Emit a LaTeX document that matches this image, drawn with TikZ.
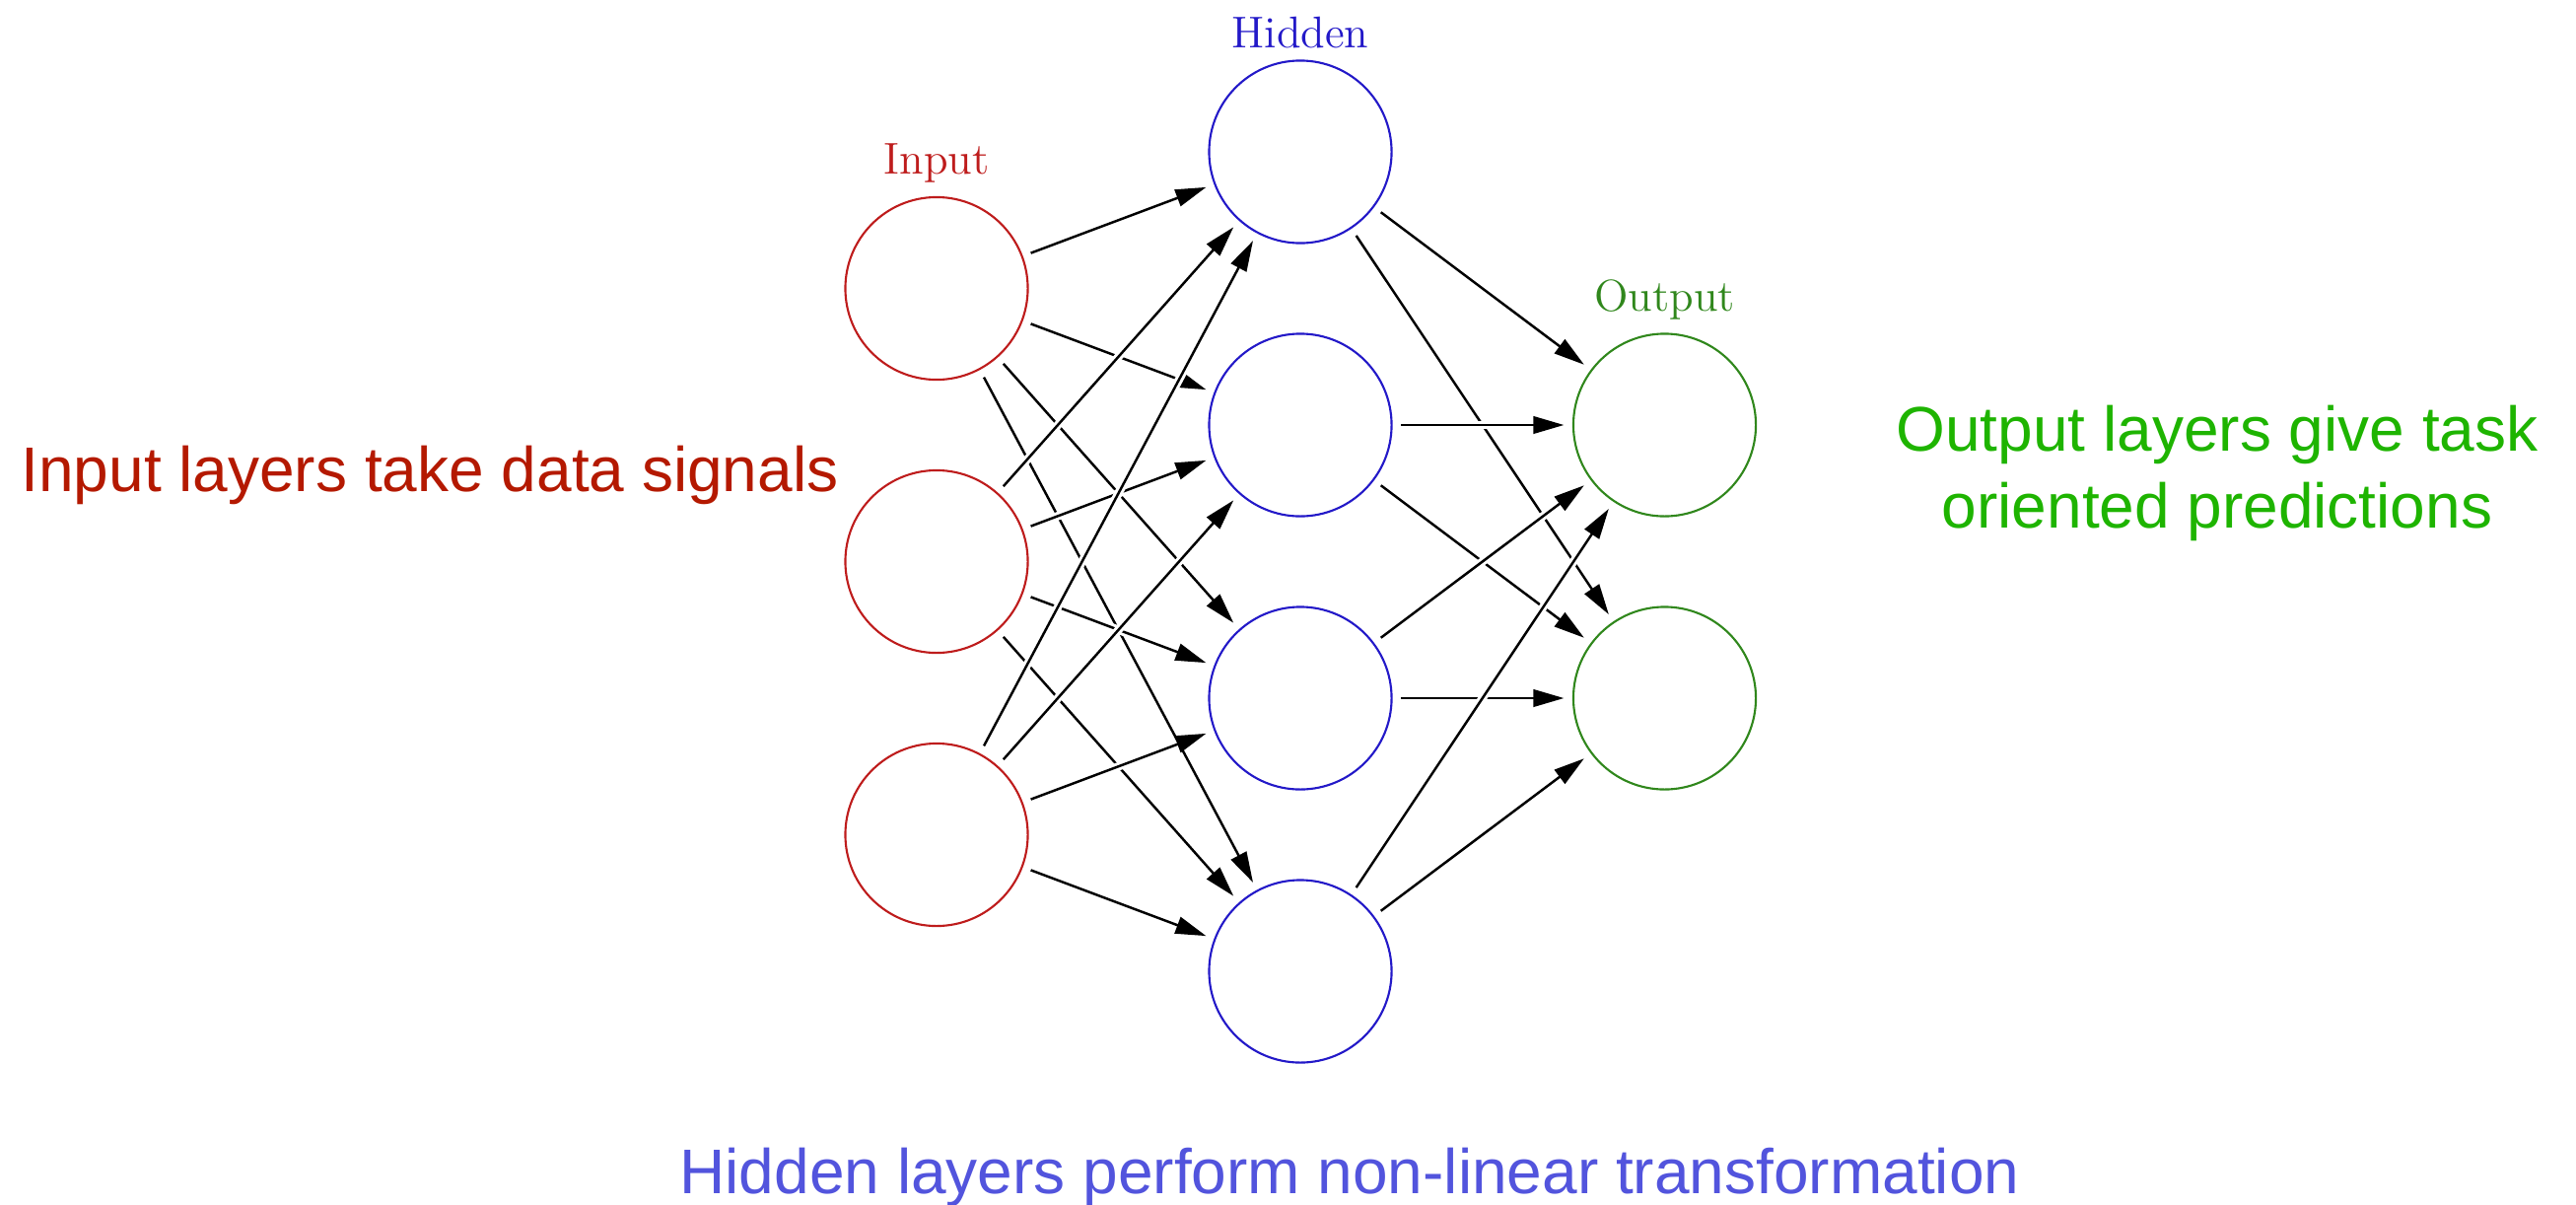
\documentclass[tikz,border=0pt]{standalone}
\usepackage{fontspec}
\newfontfamily\sidefont{Liberation Sans}
\usetikzlibrary{arrows.meta}

\definecolor{inred}{RGB}{190,28,28}
\definecolor{hidblue}{RGB}{35,25,200}
\definecolor{outgreen}{RGB}{48,135,28}
\definecolor{notered}{RGB}{180,25,0}
\definecolor{notegreen}{RGB}{30,180,0}
\definecolor{noteblue}{RGB}{82,84,221}

\begin{document}
\begin{tikzpicture}[x=0.01cm, y=-0.01cm,
  neuron/.style={circle, draw, line width=0.6pt, minimum size=1.85cm, inner sep=0pt},
  layertitle/.style={anchor=base, inner sep=0pt, font=\fontsize{12.84}{15}\selectfont},
  note/.style={inner sep=0pt, font=\sidefont\fontsize{18.2}{21.5}\selectfont},
  conn/.style={line width=0.7pt, -{Triangle[length=0.31cm, width=0.175cm]},
    shorten <=0.085cm, shorten >=0.085cm,
    preaction={draw=white, line width=2.4pt, -}}]

  \useasboundingbox (0,0) rectangle (2613,1221);

  % input layer
  \foreach \k in {1,2,3}
    \node[neuron, draw=inred] (I\k) at (950, {292.5+277*(\k-1)}) {};
  % hidden layer
  \foreach \k in {1,...,4}
    \node[neuron, draw=hidblue] (H\k) at (1319, {154+277*(\k-1)}) {};
  % output layer
  \foreach \k in {1,2}
    \node[neuron, draw=outgreen] (O\k) at (1688.5, {431+277*(\k-1)}) {};

  % layer titles
  \node[layertitle, text=inred] (tin) at (950, 176.7) {Input};
  \node[layertitle, text=hidblue] (thid) at (1319, 48.3) {Hidden};
  \node[layertitle, text=outgreen] (tout) at (1688.5, 315) {Output};

  % connections
  \foreach \i in {1,2,3}
    \foreach \h in {1,...,4}
      \draw[conn] (I\i) -- (H\h);
  \foreach \h in {1,...,4}
    \foreach \o in {1,2}
      \draw[conn] (H\h) -- (O\o);

  % explanatory notes
  \node[note, anchor=base, text=notered] (nin) at (436, 498.3) {Input layers take data signals};
  \node[note, anchor=base, align=center, text=notegreen] (nout) at (2249, 535.7)
    {Output layers give task\\[0.6pt]oriented predictions};
  \node[note, anchor=base, text=noteblue] (nhid) at (1369, 1210) {Hidden layers perform non-linear transformation};
\end{tikzpicture}
\end{document}
